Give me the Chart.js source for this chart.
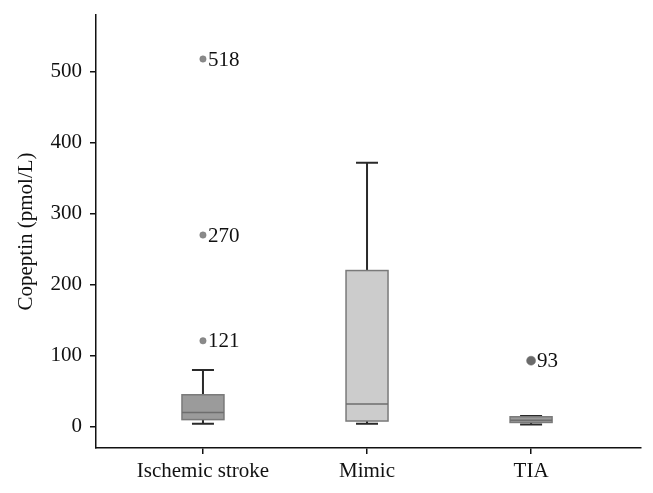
<!DOCTYPE html>
<html>
<head>
<meta charset="utf-8">
<script src="https://cdn.jsdelivr.net/npm/chart.js@4.4.1/dist/chart.umd.min.js"></script>
<style>
html,body{margin:0;padding:0;background:#fff;}
#wrap{width:653px;height:493px;position:relative;}
</style>
</head>
<body>
<div id="wrap"><canvas id="c" width="653" height="493"></canvas></div>
<script>
// ---- data ----
const categories = ['Ischemic stroke', 'Mimic', 'TIA'];
const whiskerLow  = [4, 4, 3];
const q1Values    = [10, 8, 6];
const medianValues= [20, 32, 9];
const q3Values    = [45, 220, 14];
const whiskerHigh = [80, 372, 15];
const outlierCategory = [0, 0, 0, 2];
const outlierValues   = [121, 270, 518, 93];
const yTickValues = [0, 100, 200, 300, 400, 500];

const boxFill = ['#9b9b9b', '#cccccc', '#9a9a9a'];
const FONT = '"Liberation Serif", "DejaVu Serif", serif';
const FS = 21;

const boxPlugin = {
  id: 'boxes',
  beforeDatasetsDraw(chart) {
    const ctx = chart.ctx, xs = chart.scales.x, ys = chart.scales.y;
    const halfBox = 21, halfCap = 11;
    categories.forEach((c, i) => {
      const cx = xs.getPixelForValue(i);
      const yLo = ys.getPixelForValue(whiskerLow[i]);
      const yQ1 = ys.getPixelForValue(q1Values[i]);
      const yMed = ys.getPixelForValue(medianValues[i]);
      const yQ3 = ys.getPixelForValue(q3Values[i]);
      const yHi = ys.getPixelForValue(whiskerHigh[i]);
      ctx.save();
      ctx.strokeStyle = '#2a2a2a';
      ctx.lineWidth = 2;
      ctx.beginPath();
      ctx.moveTo(cx, yQ3); ctx.lineTo(cx, yHi);
      ctx.moveTo(cx - halfCap, yHi); ctx.lineTo(cx + halfCap, yHi);
      ctx.moveTo(cx, yQ1); ctx.lineTo(cx, yLo);
      ctx.moveTo(cx - halfCap, yLo); ctx.lineTo(cx + halfCap, yLo);
      ctx.stroke();
      ctx.fillStyle = boxFill[i];
      ctx.fillRect(cx - halfBox, yQ3, halfBox * 2, yQ1 - yQ3);
      ctx.strokeStyle = '#7a7a7a';
      ctx.lineWidth = 1.5;
      ctx.strokeRect(cx - halfBox, yQ3, halfBox * 2, yQ1 - yQ3);
      ctx.strokeStyle = '#6e6e6e';
      ctx.beginPath();
      ctx.moveTo(cx - halfBox, yMed); ctx.lineTo(cx + halfBox, yMed);
      ctx.stroke();
      ctx.restore();
    });
  },
  afterDatasetsDraw(chart) {
    const ctx = chart.ctx;
    const meta = chart.getDatasetMeta(0);
    ctx.save();
    ctx.fillStyle = '#111';
    ctx.font = FS + 'px ' + FONT;
    ctx.textBaseline = 'middle';
    ctx.textAlign = 'left';
    meta.data.forEach((pt, k) => {
      const off = outlierCategory[k] === 2 ? 6 : 5;
      ctx.fillText(String(outlierValues[k]), pt.x + off, pt.y + 1);
    });
    ctx.restore();
  }
};

new Chart(document.getElementById('c'), {
  type: 'scatter',
  data: {
    datasets: [{
      data: outlierValues.map((v, k) => ({ x: outlierCategory[k], y: v })),
      pointRadius: outlierCategory.map(c => c === 2 ? 4.5 : 3.2),
      pointBackgroundColor: outlierCategory.map(c => c === 2 ? '#6a6a6a' : '#8a8a8a'),
      pointBorderColor: outlierCategory.map(c => c === 2 ? '#6a6a6a' : '#7a7a7a'),
      pointBorderWidth: 0.5
    }]
  },
  options: {
    responsive: false,
    animation: false,
    layout: { padding: { top: 15, right: 12, left: 0, bottom: 0 } },
    plugins: { legend: { display: false }, tooltip: { enabled: false } },
    scales: {
      x: {
        type: 'linear',
        min: -0.652,
        max: 2.67,
        afterBuildTicks: s => { s.ticks = categories.map((c, i) => ({ value: i })); },
        afterFit: s => { s.height = 45; s.paddingLeft = 0; s.paddingRight = 0; },
        ticks: {
          callback: v => categories[v],
          color: '#111',
          font: { family: FONT, size: FS },
          padding: 5,
          maxRotation: 0,
          autoSkip: false
        },
        grid: { drawOnChartArea: false, drawTicks: true, tickLength: 6, color: '#111', lineWidth: 1.5 },
        border: { display: true, color: '#111', width: 1.5 }
      },
      y: {
        min: -30,
        max: 580,
        afterBuildTicks: s => { s.ticks = yTickValues.map(v => ({ value: v })); },
        afterFit: s => { s.width = 96; s.paddingTop = 0; s.paddingBottom = 0; },
        ticks: {
          color: '#111',
          font: { family: FONT, size: FS },
          padding: 8
        },
        grid: { drawOnChartArea: false, drawTicks: true, tickLength: 6, color: '#111', lineWidth: 1.5 },
        border: { display: true, color: '#111', width: 1.5 },
        title: {
          display: true,
          text: 'Copeptin (pmol/L)',
          color: '#111',
          font: { family: FONT, size: FS },
          padding: { top: 14, bottom: 0 }
        }
      }
    }
  },
  plugins: [boxPlugin]
});
</script>
</body>
</html>
